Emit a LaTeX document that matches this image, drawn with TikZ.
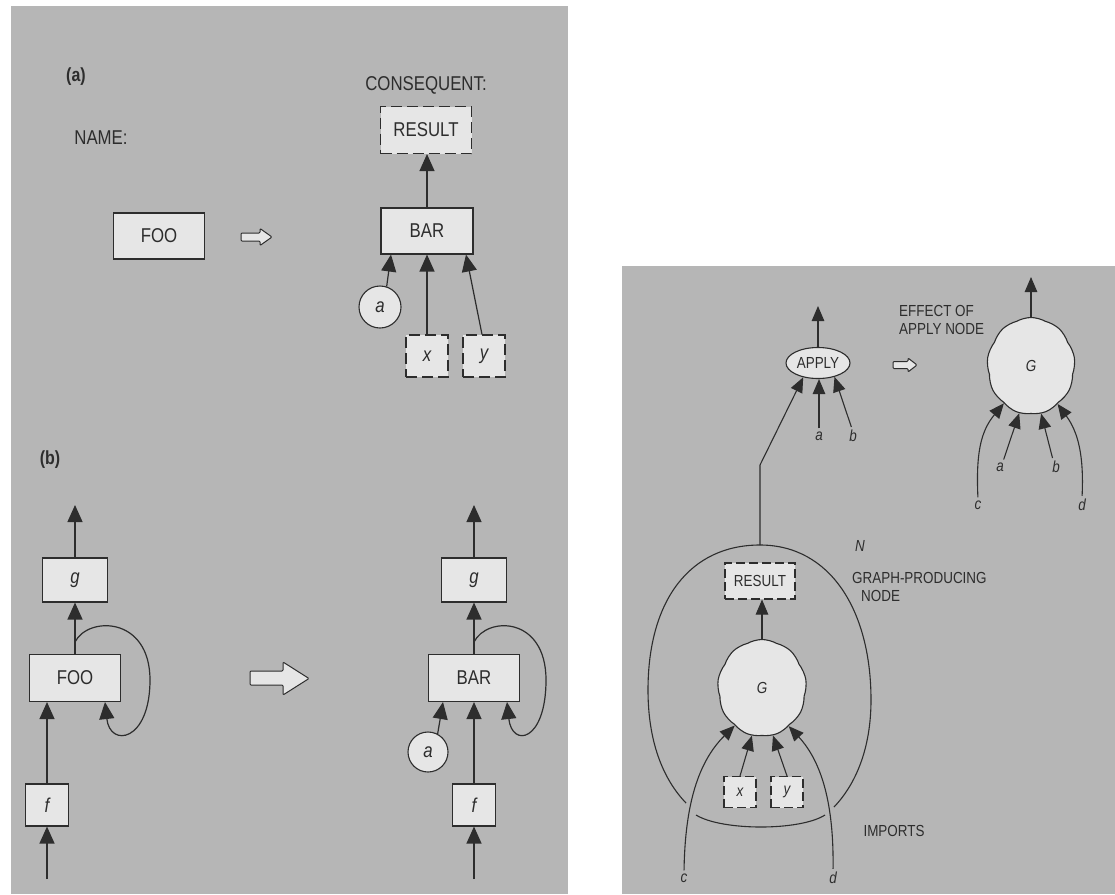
\documentclass[tikz,border=0pt]{standalone}
\usepackage{fontspec}
\setmainfont[FakeStretch=0.84]{Liberation Sans}
\usetikzlibrary{arrows.meta,shapes.geometric,shapes.symbols}
\definecolor{bg}{RGB}{182,182,182}
\definecolor{boxfill}{RGB}{230,230,230}
\definecolor{ink}{RGB}{45,45,45}
\begin{document}
\begin{tikzpicture}[x=1pt,y=-1pt,
  every node/.style={text=ink},
  lbl/.style={font=\fontsize{20}{22}\selectfont, inner sep=1pt},
  lblb/.style={font=\fontsize{19}{22}\selectfont\bfseries, inner sep=1pt},
  lblr/.style={font=\fontsize{16}{18}\selectfont, inner sep=1pt},
  lbli/.style={font=\fontsize{16}{18}\selectfont\itshape, inner sep=1pt},
  box/.style={draw=ink, fill=boxfill, line width=1.1pt, inner sep=0pt, font=\fontsize{20}{22}\selectfont},
  dbox/.style={box, dash pattern=on 11pt off 5pt},
  cbox/.style={circle, draw=ink, fill=boxfill, line width=1.1pt, inner sep=0pt, font=\fontsize{20}{22}\selectfont\itshape},
  rbox/.style={draw=ink, fill=boxfill, line width=1.1pt, inner sep=0pt, font=\fontsize{16}{18}\selectfont},
  rdbox/.style={rbox, dash pattern=on 9pt off 4pt},
  cloudbox/.style={cloud, cloud puffs=9, cloud puff arc=60, draw=ink, fill=boxfill, line width=1.1pt, inner sep=0pt, font=\fontsize{16}{18}\selectfont\itshape},
  arr/.style={draw=ink, line width=1.2pt, -{Triangle[length=17pt,width=15pt]}},
  arrs/.style={draw=ink, line width=1.1pt, -{Triangle[length=15pt,width=12.5pt]}},
  hollow/.style={draw=ink, fill=boxfill, line width=1pt, rounded corners=1pt},
  plain/.style={draw=ink, line width=1.1pt}
]
\useasboundingbox (0,0) rectangle (1115,894);
\fill[white] (0,0) rectangle (1115,894);
\fill[bg] (11,6) rectangle (568,894);
\fill[bg] (622,266) rectangle (1115,894);

% ---------- (a) ----------
\node[lblb] (laba) at (76,77) {(a)};
\node[lbl] (name) at (101,138) {NAME:};
\node[lbl] (cons) at (426,85) {CONSEQUENT:};
\node[dbox, minimum width=91, minimum height=47] (resA) at (426,130) {RESULT};
\node[box, minimum width=92, minimum height=46] (barA) at (427,231) {BAR};
\node[box, minimum width=91, minimum height=46] (fooA) at (159,236) {FOO};
\node[cbox, minimum size=42] (aA) at (380,307) {a};
\node[dbox, font=\fontsize{20}{22}\selectfont\itshape, minimum width=42, minimum height=42] (xA) at (427,356) {x};
\node[dbox, font=\fontsize{20}{22}\selectfont\itshape, minimum width=42, minimum height=42] (yA) at (484,356) {y};
\draw[arr] (barA.north) -- (resA.south -| barA.north);
\draw[arr] (aA.72) -- ([xshift=-36]barA.south);
\draw[arr] (xA.north) -- (barA.south);
\draw[arr] ([xshift=-2]yA.north) -- ([xshift=39]barA.south);
\draw[hollow] (241,233) -- (260,233) -- (260,228.5) -- (272,237) -- (260,245.5) -- (260,241) -- (241,241) -- cycle;

% ---------- (b) ----------
\node[lblb] (labb) at (50,460) {(b)};
% left
\node[box, font=\fontsize{20}{22}\selectfont\itshape, minimum width=65, minimum height=44] (gL) at (75,580) {g};
\node[box, minimum width=91, minimum height=47] (fooB) at (75,678) {FOO};
\node[box, font=\fontsize{20}{22}\selectfont\itshape, minimum width=43, minimum height=42] (fL) at (47,805) {f};
\coordinate (topL) at (75,505);
\coordinate (botL) at (47,879);
\coordinate (loopL) at (75,642);
\draw[arr] (gL.north) -- (topL);
\draw[arr] (fooB.north) -- (gL.south);
\draw[arr] (botL) -- (fL.south);
\draw[arr] (fL.north) -- (fL.north |- fooB.south);
\draw[arr] (loopL) .. controls (88,616) and (150,616) .. (150,680) .. controls (150,742) and (110,748) .. ([xshift=30]fooB.south);
% big arrow
\draw[hollow] (250,671) -- (283,671) -- (283,662) -- (309,678.5) -- (283,695) -- (283,685) -- (250,685) -- cycle;
% right
\node[box, font=\fontsize{20}{22}\selectfont\itshape, minimum width=65, minimum height=44] (gR) at (474,580) {g};
\node[box, minimum width=91, minimum height=47] (barB) at (474,678) {BAR};
\node[box, font=\fontsize{20}{22}\selectfont\itshape, minimum width=43, minimum height=42] (fR) at (474,805) {f};
\node[cbox, minimum size=40] (aB) at (428,752) {a};
\coordinate (topR) at (474,505);
\coordinate (botR) at (474,879);
\coordinate (loopR) at (474,642);
\draw[arr] (gR.north) -- (topR);
\draw[arr] (barB.north) -- (gR.south);
\draw[arr] (botR) -- (fR.south);
\draw[arr] (fR.north) -- (barB.south);
\draw[arr] (aB.62) -- ([xshift=-31]barB.south);
\draw[arr] (loopR) .. controls (487,616) and (546,616) .. (546,680) .. controls (546,742) and (512,748) .. ([xshift=33]barB.south);

% ---------- right panel ----------
\node[ellipse, draw=ink, fill=boxfill, line width=1.1pt, inner sep=0pt, minimum width=64, minimum height=31, font=\fontsize{16}{18}\selectfont] (ap) at (818,363) {APPLY};
\coordinate (apTop) at (818,306);
\draw[arrs] (ap.north) -- (apTop);
\node[lblr, align=left, anchor=west, font=\fontsize{16}{18}\selectfont] (eff) at (898,320) {EFFECT OF\\APPLY NODE};
\draw[hollow] (893,361.5) -- (908,361.5) -- (908,358) -- (917,365) -- (908,372) -- (908,368.5) -- (893,368.5) -- cycle;
\node[lbli] (aR) at (819,436) {a};
\node[lbli] (bR) at (853,436) {b};
\draw[arrs, shorten <=2pt] (aR.north) -- (aR.north |- ap.south);
\draw[arrs, shorten <=2pt] ([xshift=-1]bR.north) -- (ap.-40);

% G cloud (effect)
\node[cloudbox, minimum width=88, minimum height=97] (G1) at (1031,366) {G};
\coordinate (g1Top) at (1031,277);
\draw[arrs] (G1.north) -- (g1Top);
\node[lbli] (a1) at (1000,467) {a};
\node[lbli] (b1) at (1056,467) {b};
\node[lbli] (c1) at (978,505) {c};
\node[lbli] (d1) at (1082,505) {d};
\draw[arrs, shorten <=2pt] ([xshift=3]a1.north) -- (G1.-104);
\draw[arrs, shorten <=2pt] ([xshift=-3]b1.north) -- (G1.-78);
\draw[arrs, shorten <=2pt] (c1.north) .. controls (976,455) and (980,432) .. (G1.-126);
\draw[arrs, shorten <=2pt] (d1.north) .. controls (1084,455) and (1078,432) .. (G1.-55);

% N bubble
\coordinate (Ntop) at (760,545);
\coordinate (Nbend) at (760,465);
\draw[arrs] (Ntop) -- (Nbend) -- (ap.-136);
\draw[plain] (686,803) .. controls (662,778) and (648,740) .. (648,690)
  .. controls (648,600) and (690,545) .. (760,545)
  .. controls (830,545) and (871,610) .. (871,700)
  .. controls (871,748) and (856,784) .. (834,807);
\draw[plain] (696,815) .. controls (722,831) and (800,831) .. (825,815);
\node[lbli] (Nlab) at (860,546) {N};
\node[lblr, align=left, anchor=west] (gp) at (851,587) {GRAPH-PRODUCING\\\hspace*{9pt}NODE};
\node[lblr] (imp) at (894,831) {IMPORTS};

\node[rdbox, minimum width=70, minimum height=36] (resR) at (760,581) {RESULT};
\node[cloudbox, minimum width=89, minimum height=97] (G2) at (762,688) {G};
\draw[arrs] (G2.north) -- (G2.north |- resR.south);
\node[rdbox, font=\fontsize{16}{18}\selectfont\itshape, minimum width=32, minimum height=31] (xR) at (740,792) {x};
\node[rdbox, font=\fontsize{16}{18}\selectfont\itshape, minimum width=32, minimum height=31] (yR) at (787,792) {y};
\draw[arrs] (xR.north) -- (G2.-102);
\draw[arrs] (yR.north) -- (G2.-77);
\node[lbli] (c2) at (684,878) {c};
\node[lbli] (d2) at (833,878) {d};
\draw[arrs, shorten <=2pt] (c2.north) .. controls (685,805) and (698,762) .. (G2.-126);
\draw[arrs, shorten <=2pt] (d2.north) .. controls (834,805) and (822,762) .. (G2.-55);
\end{tikzpicture}
\end{document}
